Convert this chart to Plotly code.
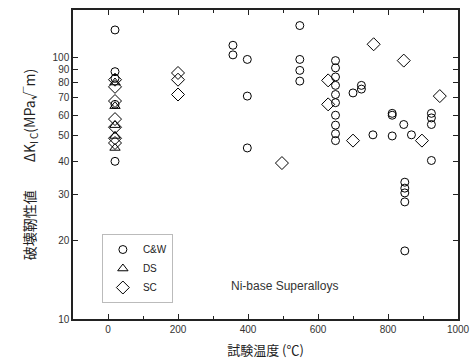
import plotly.graph_objects as go

# Test temperature (deg C) and fracture toughness (MPa*sqrt(m))
cw_temp = [20, 20, 20, 20, 20,
           357, 357, 398, 398, 398,
           548, 548, 548, 548,
           650, 650, 650, 650, 650, 650, 650, 650, 650, 650,
           700, 724, 724, 757, 812, 812, 812,
           845, 848, 848, 848, 848, 848, 867,
           924, 924, 924, 924]
cw_k = [127, 88, 83, 66, 40,
        111, 102, 98, 71, 45,
        132, 98, 89, 81,
        97, 91, 84, 78, 72, 67, 60, 55, 51, 48,
        73, 78, 75.5, 50.5, 61, 60, 50,
        55.3, 33.3, 31.6, 30.3, 28, 18.2, 50.5,
        61, 58.6, 55.3, 40.3]

ds_temp = [20, 20, 20, 20, 20]
ds_k = [80, 65, 55, 50, 45]

sc_temp = [20, 20, 20, 20, 20, 20, 20,
           200, 200, 200,
           497, 629, 629, 700, 759, 845, 897, 948]
sc_k = [82, 77, 68, 58, 54, 49, 47,
        87, 82, 72,
        39.4, 81.5, 66, 48, 112, 97, 48, 71]

y_ticks = [10, 20, 30, 40, 50, 60, 70, 80, 90, 100]
x_ticks = [0, 200, 400, 600, 800, 1000]

font = "Liberation Sans, Arial, Noto Sans CJK JP, sans-serif"
jp_font = "Noto Sans CJK JP, Liberation Sans, sans-serif"
line = dict(color="black", width=1)

fig = go.Figure()
fig.add_trace(go.Scatter(x=cw_temp, y=cw_k, mode="markers", name="C&W",
                         marker=dict(symbol="circle-open", size=8, line=line, color="black")))
fig.add_trace(go.Scatter(x=ds_temp, y=ds_k, mode="markers", name="DS",
                         marker=dict(symbol="triangle-up-open", size=9, line=line, color="black")))
fig.add_trace(go.Scatter(x=sc_temp, y=sc_k, mode="markers", name="SC",
                         marker=dict(symbol="diamond-open", size=10, line=line, color="black")))

fig.update_layout(
    width=473, height=363,
    margin=dict(l=73, r=15, t=10, b=44),
    paper_bgcolor="white", plot_bgcolor="white",
    font=dict(family=font, size=10, color="#222"),
    showlegend=True,
    legend=dict(x=0.075, y=0.275, xanchor="left", yanchor="top",
                bordercolor="#bbbbbb", borderwidth=1, bgcolor="white",
                font=dict(size=10, color="#222"), itemwidth=30,
                tracegroupgap=0),
    xaxis=dict(range=[-100, 1000], tickvals=x_ticks, ticks="inside", ticklen=5,
               tickwidth=1, tickcolor="#222", automargin=False,
               showline=True, linecolor="#222", linewidth=1.5, mirror="ticks",
               showgrid=False, zeroline=False,
               minor=dict(tickvals=[100, 300, 500, 700, 900], ticks="inside",
                          ticklen=3, tickcolor="#222", showgrid=False),
               tickfont=dict(size=10, color="#333"),
               title=dict(text="試験温度 (℃)", font=dict(family=jp_font, size=13, color="#222"),
                          standoff=12)),
    yaxis=dict(type="log", range=[1, 2.18], tickvals=y_ticks,
               ticktext=[str(v) for v in y_ticks], ticks="inside", ticklen=5,
               tickwidth=1, tickcolor="#222", automargin=False,
               showline=True, linecolor="#222", linewidth=1.5, mirror="ticks",
               showgrid=False, zeroline=False,
               tickfont=dict(size=10, color="#333"),
               title=dict(text="破壊靭性値\u3000\u3000ΔK<sub>I C</sub>(MPa√m)",
                          font=dict(family=jp_font, size=14, color="#222"),
                          standoff=14)),
    annotations=[dict(text="Ni-base Superalloys", xref="paper", yref="paper",
                      x=0.55, y=0.078, showarrow=False,
                      font=dict(size=12, color="#333"))],
)

fig.write_html("out.html")
